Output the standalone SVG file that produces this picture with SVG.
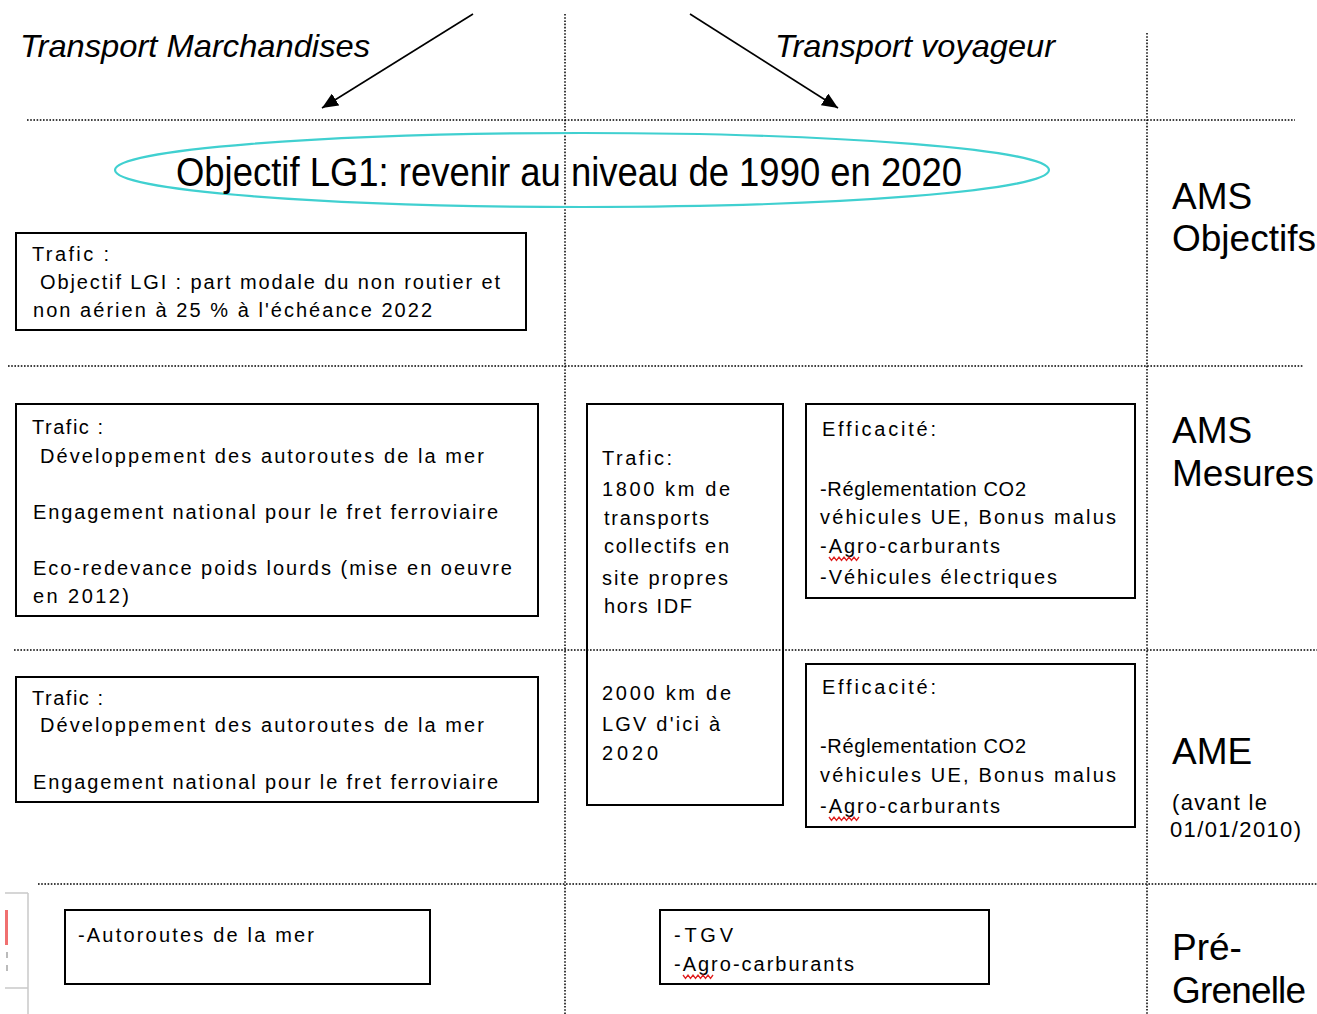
<svg xmlns="http://www.w3.org/2000/svg" width="1317" height="1014" viewBox="0 0 1317 1014">
  <style>
    .grid { stroke: #000; stroke-width: 1.5; stroke-dasharray: 1.6 1.6; fill: none; }
    .box { fill: none; stroke: #000; stroke-width: 2; }
    .t { font-family: "Liberation Sans", Arial, sans-serif; font-size: 20px; fill: #000; }
    .head { font-family: "Liberation Sans", Arial, sans-serif; font-size: 32px; font-style: italic; fill: #000; }
    .lab { font-family: "Liberation Sans", Arial, sans-serif; font-size: 37px; fill: #000; }
    .sm { font-family: "Liberation Sans", Arial, sans-serif; font-size: 22px; fill: #000; }
    .sq { fill: none; stroke: #e02020; stroke-width: 1.3; }
    .conn { stroke: #000; stroke-width: 1.6; fill: none; }
  </style>
  <defs>
    <marker id="arr" markerUnits="userSpaceOnUse" markerWidth="18" markerHeight="14" refX="16" refY="7" orient="auto">
      <path d="M0,0 L16,7 L0,14 Z" fill="#000"/>
    </marker>
  </defs>
  <rect width="1317" height="1014" fill="#fff"/>

  <!-- grid -->
  <g id="grid">
    <line class="grid" x1="27" y1="120" x2="1295" y2="120"/>
    <line class="grid" x1="8" y1="366" x2="1303" y2="366"/>
    <line class="grid" x1="14" y1="650" x2="1317" y2="650"/>
    <line class="grid" x1="38" y1="884" x2="1317" y2="884"/>
    <line class="grid" x1="565" y1="14" x2="565" y2="1014"/>
    <line class="grid" x1="1147" y1="33" x2="1147" y2="1014"/>
  </g>

  <!-- left edge artefact -->
  <g id="edge">
    <line x1="28" y1="893" x2="28" y2="1014" stroke="#c8c8c8" stroke-width="1.5"/>
    <line x1="5" y1="893" x2="28" y2="893" stroke="#c8c8c8" stroke-width="1.5"/>
    <line x1="5" y1="988" x2="28" y2="988" stroke="#c8c8c8" stroke-width="1.5"/>
    <rect x="5" y="910" width="3" height="35" fill="#f07070"/>
    <rect x="6" y="952" width="2" height="6" fill="#bbb"/>
    <rect x="6" y="965" width="2" height="6" fill="#bbb"/>
  </g>

  <!-- headings -->
  <g id="head-marchandises">
    <text class="head" x="20" y="57" textLength="350" lengthAdjust="spacingAndGlyphs">Transport Marchandises</text>
  </g>
  <g id="head-voyageur">
    <text class="head" x="775" y="57" textLength="280" lengthAdjust="spacingAndGlyphs">Transport voyageur</text>
  </g>

  <!-- connectors -->
  <g id="connectors">
    <line class="conn" x1="473" y1="14" x2="322" y2="108" marker-end="url(#arr)"/>
    <line class="conn" x1="690" y1="14" x2="838" y2="108" marker-end="url(#arr)"/>
  </g>

  <!-- objective ellipse -->
  <g id="objectif">
    <ellipse cx="582" cy="170" rx="467" ry="37" fill="none" stroke="#40d0d0" stroke-width="2.2"/>
    <text x="176" y="186" font-family="Liberation Sans, Arial, sans-serif" font-size="40" textLength="786" lengthAdjust="spacingAndGlyphs">Objectif LG1: revenir au niveau de 1990 en 2020</text>
  </g>

  <!-- box 1 -->
  <g id="box-ams-obj">
    <rect class="box" x="16" y="233" width="510" height="97"/>
    <text class="t" x="32" y="261" textLength="77">Trafic :</text>
    <text class="t" x="40" y="289" textLength="460">Objectif LGI : part modale du non routier et</text>
    <text class="t" x="33" y="317" textLength="399">non aérien à 25 % à l'échéance 2022</text>
  </g>

  <!-- box 2 -->
  <g id="box-ams-mes-fret">
    <rect class="box" x="16" y="404" width="522" height="212"/>
    <text class="t" x="32" y="434" textLength="71">Trafic :</text>
    <text class="t" x="40" y="463" textLength="444">Développement des autoroutes de la mer</text>
    <text class="t" x="33" y="519" textLength="465">Engagement national pour le fret ferroviaire</text>
    <text class="t" x="33" y="575" textLength="479">Eco-redevance poids lourds (mise en oeuvre</text>
    <text class="t" x="33" y="603" textLength="96">en 2012)</text>
  </g>

  <!-- box 3 -->
  <g id="box-tc-lgv">
    <rect class="box" x="587" y="404" width="196" height="401"/>
    <text class="t" x="602" y="465" textLength="70">Trafic:</text>
    <text class="t" x="602" y="496" textLength="128">1800 km de</text>
    <text class="t" x="604" y="525" textLength="105">transports</text>
    <text class="t" x="604" y="553" textLength="125">collectifs en</text>
    <text class="t" x="602" y="585" textLength="126">site propres</text>
    <text class="t" x="604" y="613" textLength="88">hors IDF</text>
    <text class="t" x="602" y="700" textLength="129">2000 km de</text>
    <text class="t" x="602" y="731" textLength="118">LGV d'ici à</text>
    <text class="t" x="602" y="760" textLength="56">2020</text>
  </g>

  <!-- box 4 -->
  <g id="box-eff-ams">
    <rect class="box" x="806" y="404" width="329" height="194"/>
    <text class="t" x="822" y="436" textLength="114">Efficacité:</text>
    <text class="t" x="820" y="496" textLength="206">-Réglementation CO2</text>
    <text class="t" x="820" y="524" textLength="296">véhicules UE, Bonus malus</text>
    <text class="t" x="820" y="553" textLength="180">-Agro-carburants</text>
    <path class="sq" d="M829,557 l2.5,3.5 l2.5,-3.5 l2.5,3.5 l2.5,-3.5 l2.5,3.5 l2.5,-3.5 l2.5,3.5 l2.5,-3.5 l2.5,3.5 l2.5,-3.5 l2.5,3.5 l2.5,-3.5"/>
    <text class="t" x="820" y="584" textLength="237">-Véhicules électriques</text>
  </g>

  <!-- box 5 -->
  <g id="box-eff-ame">
    <rect class="box" x="806" y="664" width="329" height="163"/>
    <text class="t" x="822" y="694" textLength="114">Efficacité:</text>
    <text class="t" x="820" y="753" textLength="206">-Réglementation CO2</text>
    <text class="t" x="820" y="782" textLength="296">véhicules UE, Bonus malus</text>
    <text class="t" x="820" y="813" textLength="180">-Agro-carburants</text>
    <path class="sq" d="M829,817 l2.5,3.5 l2.5,-3.5 l2.5,3.5 l2.5,-3.5 l2.5,3.5 l2.5,-3.5 l2.5,3.5 l2.5,-3.5 l2.5,3.5 l2.5,-3.5 l2.5,3.5 l2.5,-3.5"/>
  </g>

  <!-- box 6 -->
  <g id="box-ame-fret">
    <rect class="box" x="16" y="677" width="522" height="125"/>
    <text class="t" x="32" y="705" textLength="71">Trafic :</text>
    <text class="t" x="40" y="732" textLength="444">Développement des autoroutes de la mer</text>
    <text class="t" x="33" y="789" textLength="465">Engagement national pour le fret ferroviaire</text>
  </g>

  <!-- box 7 -->
  <g id="box-pre-fret">
    <rect class="box" x="65" y="910" width="365" height="74"/>
    <text class="t" x="78" y="942" textLength="236">-Autoroutes de la mer</text>
  </g>

  <!-- box 8 -->
  <g id="box-pre-voy">
    <rect class="box" x="660" y="910" width="329" height="74"/>
    <text class="t" x="674" y="942" textLength="59">-TGV</text>
    <text class="t" x="674" y="971" textLength="180">-Agro-carburants</text>
    <path class="sq" d="M683,975 l2.5,3.5 l2.5,-3.5 l2.5,3.5 l2.5,-3.5 l2.5,3.5 l2.5,-3.5 l2.5,3.5 l2.5,-3.5 l2.5,3.5 l2.5,-3.5 l2.5,3.5 l2.5,-3.5"/>
  </g>

  <!-- right labels -->
  <g id="lab-ams-obj">
    <text class="lab" x="1172" y="209">AMS</text>
    <text class="lab" x="1172" y="251">Objectifs</text>
  </g>
  <g id="lab-ams-mes">
    <text class="lab" x="1172" y="443">AMS</text>
    <text class="lab" x="1172" y="486">Mesures</text>
  </g>
  <g id="lab-ame">
    <text class="lab" x="1172" y="764">AME</text>
    <text class="sm" x="1172" y="810" textLength="95">(avant le</text>
    <text class="sm" x="1170" y="837" textLength="131">01/01/2010)</text>
  </g>
  <g id="lab-pre">
    <text class="lab" x="1172" y="960">Pré-</text>
    <text class="lab" x="1172" y="1003" textLength="134">Grenelle</text>
  </g>
</svg>
